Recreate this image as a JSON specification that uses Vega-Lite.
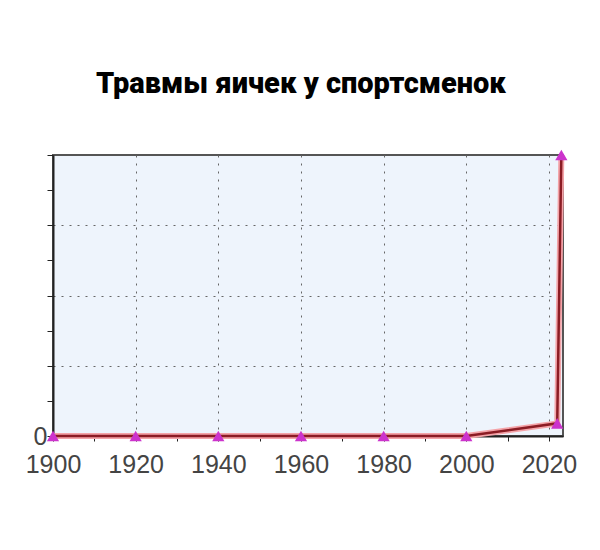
{
  "$schema": "https://vega.github.io/schema/vega-lite/v6.json",
  "autosize": "none",
  "width": 510,
  "height": 281,
  "padding": {"left": 53, "top": 155, "right": 37, "bottom": 114},
  "background": "white",
  "title": {
    "text": "Травмы яичек у спортсменок",
    "font": "Roboto",
    "fontWeight": 900,
    "fontSize": 29,
    "color": "black",
    "anchor": "middle",
    "dx": -7,
    "offset": 44
  },
  "data": {
    "values": [
      {"year": 1900, "injuries": 0},
      {"year": 1920, "injuries": 0},
      {"year": 1940, "injuries": 0},
      {"year": 1960, "injuries": 0},
      {"year": 1980, "injuries": 0},
      {"year": 2000, "injuries": 0},
      {"year": 2022, "injuries": 0.18},
      {"year": 2023, "injuries": 4}
    ]
  },
  "encoding": {
    "x": {
      "field": "year",
      "type": "quantitative",
      "scale": {"domain": [1900, 2023.4], "nice": false, "zero": false},
      "axis": {
        "title": null,
        "values": [1900, 1910, 1920, 1930, 1940, 1950, 1960, 1970, 1980, 1990, 2000, 2010, 2020],
        "format": "d",
        "labelExpr": "datum.value % 20 == 0 ? datum.label : ''",
        "labelFlush": false,
        "labelOverlap": false,
        "grid": true,
        "gridOpacity": {"condition": {"test": "datum.value % 20 == 0 && datum.value > 1900", "value": 1}, "value": 0},
        "gridDash": [2, 6],
        "gridColor": "#666",
        "domainColor": "#222",
        "domainWidth": 2,
        "tickColor": "#222",
        "tickSize": 5,
        "labelFont": "Liberation Sans",
        "labelFontSize": 25,
        "labelColor": "#444",
        "labelPadding": 11
      }
    },
    "y": {
      "field": "injuries",
      "type": "quantitative",
      "scale": {"domain": [0, 4], "nice": false},
      "axis": {
        "title": null,
        "values": [0, 0.5, 1, 1.5, 2, 2.5, 3, 3.5, 4],
        "labelExpr": "datum.value == 0 ? '0' : ''",
        "labelFlush": false,
        "labelOverlap": false,
        "grid": true,
        "gridOpacity": {"condition": {"test": "datum.value % 1 == 0 && datum.value > 0 && datum.value < 4", "value": 1}, "value": 0},
        "gridDash": [2, 6],
        "gridColor": "#666",
        "domainColor": "#222",
        "domainWidth": 2,
        "tickColor": "#222",
        "tickSize": 6,
        "labelFont": "Liberation Sans",
        "labelFontSize": 25,
        "labelColor": "#444",
        "labelPadding": 0,
        "labelBaseline": "middle"
      }
    }
  },
  "layer": [
    {"mark": {"type": "line", "color": "#f4a3a8", "strokeWidth": 6}},
    {"mark": {"type": "line", "color": "#8b1c24", "strokeWidth": 2.5}},
    {"mark": {"type": "point", "shape": "triangle-up", "filled": true, "color": "#cc33cc", "size": 150, "opacity": 1}}
  ],
  "config": {
    "view": {"fill": "#eef4fc", "stroke": "#555", "strokeWidth": 2}
  }
}
